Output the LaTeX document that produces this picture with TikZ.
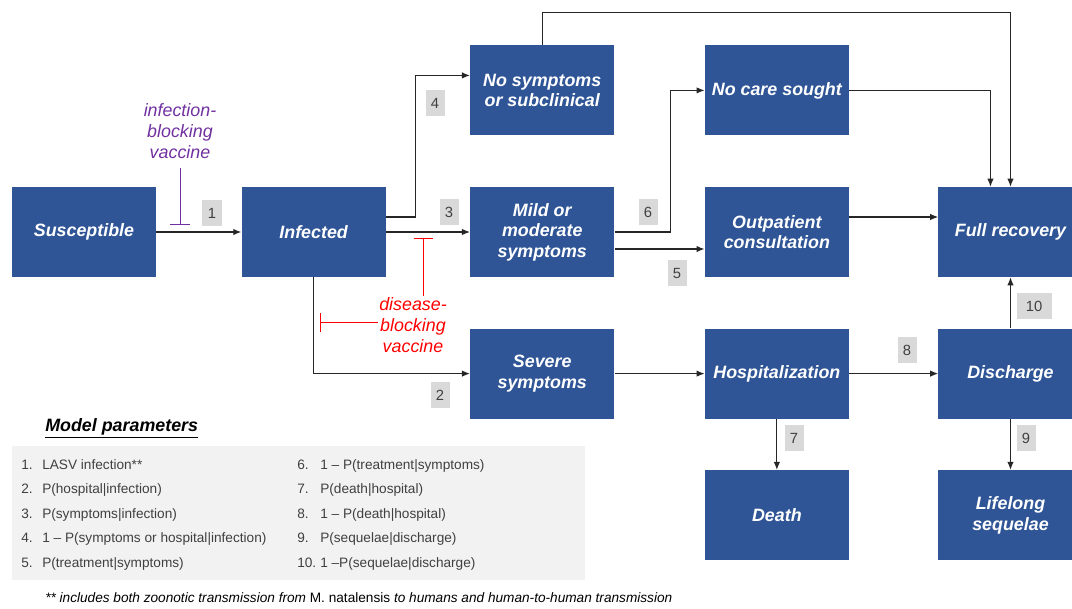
\documentclass[tikz,border=0pt]{standalone}
\usepackage{fontspec}
\setmainfont{Liberation Sans}
\usetikzlibrary{positioning}
\usetikzlibrary{arrows.meta}
\definecolor{boxblue}{RGB}{47,85,151}
\definecolor{numgray}{RGB}{217,217,217}
\definecolor{paramgray}{RGB}{242,242,242}
\definecolor{linegray}{RGB}{38,38,38}
\definecolor{textgray}{RGB}{64,64,64}
\definecolor{vaccpurple}{RGB}{112,48,160}
\definecolor{vaccred}{RGB}{255,0,0}
\tikzset{
  stagebox/.style={fill=boxblue, text=white, align=center, inner sep=2pt,
    minimum width=3.6cm, minimum height=2.25cm,
    font=\fontsize{12.7}{14.6}\selectfont\bfseries\itshape},
  numbox/.style={fill=numgray, text=textgray, inner sep=0pt,
    minimum width=0.475cm, minimum height=0.65cm,
    font=\fontsize{10.5}{12}\selectfont},
  flow/.style={draw=linegray, line width=0.8pt, -{Latex[length=2mm,width=1.6mm]}},
  blocker/.style={line width=0.7pt, -{Bar[width=4.75mm]}},
  vacctext/.style={align=center, inner sep=1pt, font=\fontsize{12.7}{15}\selectfont\itshape}
}

\begin{document}
\begin{tikzpicture}[x=0.025cm,y=0.025cm]
\useasboundingbox (0,0) rectangle (1072,-608);

% Susceptible and infected
\node[stagebox] (susc) at (84,-232) {Susceptible};
\node[stagebox, right=2.125cm of susc] (infd) {Infected};

% Clinical course
\node[stagebox, right=2.1cm of infd] (mild) {Mild or\\moderate\\symptoms};
\node[stagebox, above=1.275cm of mild] (nosym) {No symptoms\\or subclinical};
\node[stagebox, below=1.275cm of mild] (severe) {Severe\\symptoms};

% Care
\node[stagebox, right=2.25cm of mild] (outpat) {Outpatient\\consultation};
\node[stagebox, above=1.275cm of outpat] (nocare) {No care sought};
\node[stagebox, below=1.275cm of outpat] (hosp) {Hospitalization};
\node[stagebox, below=1.275cm of hosp] (death) {Death};

% Outcomes
\node[stagebox, right=2.225cm of outpat] (recov) {Full recovery};
\node[stagebox, below=1.275cm of recov] (disch) {Discharge};
\node[stagebox, below=1.275cm of disch] (sequel) {Lifelong\\sequelae};

% Arrows
\draw[flow] (susc.east) -- (infd.west);
\draw[flow] ([yshift=0.375cm]infd.east) -- ++(30,0) |- ([yshift=0.375cm]nosym.west);
\draw[flow] (infd.east) -- (mild.west);
\draw[flow] (infd.south) |- (severe.west);
\draw[flow] (mild.east) -- ++(56,0) |- (nocare.west);
\draw[flow] ([yshift=-0.425cm]mild.east) -- ([yshift=-0.425cm]outpat.west);
\draw[flow] (nosym.north) -- ++(0,33) -| (recov.north);
\draw[flow] (nocare.east) -| ([xshift=-0.5cm]recov.north);
\draw[flow] ([yshift=0.375cm]outpat.east) -- ([yshift=0.375cm]recov.west);
\draw[flow] (severe.east) -- (hosp.west);
\draw[flow] (hosp.east) -- (disch.west);
\draw[flow] (hosp.south) -- (death.north);
\draw[flow] (disch.south) -- (sequel.north);
\draw[flow] (disch.north) -- (recov.south);

% Parameter numbers
\node[numbox] (n1) at (212,-213) {1};
\node[numbox] (n2) at (440,-395) {2};
\node[numbox] (n3) at (449,-212) {3};
\node[numbox] (n4) at (435,-103) {4};
\node[numbox] (n5) at (677,-273) {5};
\node[numbox] (n6) at (648,-212) {6};
\node[numbox] (n7) at (794,-438) {7};
\node[numbox] (n8) at (907,-350) {8};
\node[numbox] (n9) at (1026,-438) {9};
\node[numbox, minimum width=0.875cm] (n10) at (1034,-306) {10};

% Vaccines
\node[vacctext, text=vaccpurple] (vacc1) at (180,-131) {infection-\\blocking\\vaccine};
\coordinate (block1) at (180,-225);
\draw[blocker, vaccpurple] (vacc1.south) ++(0,-8) -- (block1);

\node[vacctext, text=vaccred] (vacc2) at (413,-325) {disease-\\blocking\\vaccine};
\coordinate (block2) at (423,-238);
\coordinate (block3) at (320,-322);
\draw[blocker, vaccred] (vacc2.north -| block2) -- (block2);
\draw[blocker, vaccred] (vacc2.west |- block3) -- (block3);

% Model parameters
\node[anchor=west, inner sep=0pt, font=\fontsize{12.7}{15}\selectfont\bfseries\itshape] (partitle) at (45,-428) {\underline{Model parameters}};
\fill[paramgray] (12,-446) rectangle (585,-580);
\node[anchor=north west, inner sep=0pt, text=textgray, font=\fontsize{9.7}{17.4}\selectfont] (parcol1) at (21,-452) {%
  \begin{tabular}{@{}p{0.525cm}@{}l@{}}
  1. & LASV infection** \\
  2. & P(hospital|infection) \\
  3. & P(symptoms|infection) \\
  4. & 1 – P(symptoms or hospital|infection) \\
  5. & P(treatment|symptoms)
  \end{tabular}};
\node[anchor=north west, inner sep=0pt, text=textgray, font=\fontsize{9.7}{17.4}\selectfont] (parcol2) at (297,-452) {%
  \begin{tabular}{@{}p{0.575cm}@{}l@{}}
  6. & 1 – P(treatment|symptoms) \\
  7. & P(death|hospital) \\
  8. & 1 – P(death|hospital) \\
  9. & P(sequelae|discharge) \\
  10. & 1 –P(sequelae|discharge)
  \end{tabular}};
\node[anchor=west, inner sep=0pt, font=\fontsize{9.7}{12}\selectfont] (footnote) at (45,-598) {\itshape ** includes both zoonotic transmission from \upshape M. natalensis \itshape to humans and human-to-human transmission};

\end{tikzpicture}
\end{document}
